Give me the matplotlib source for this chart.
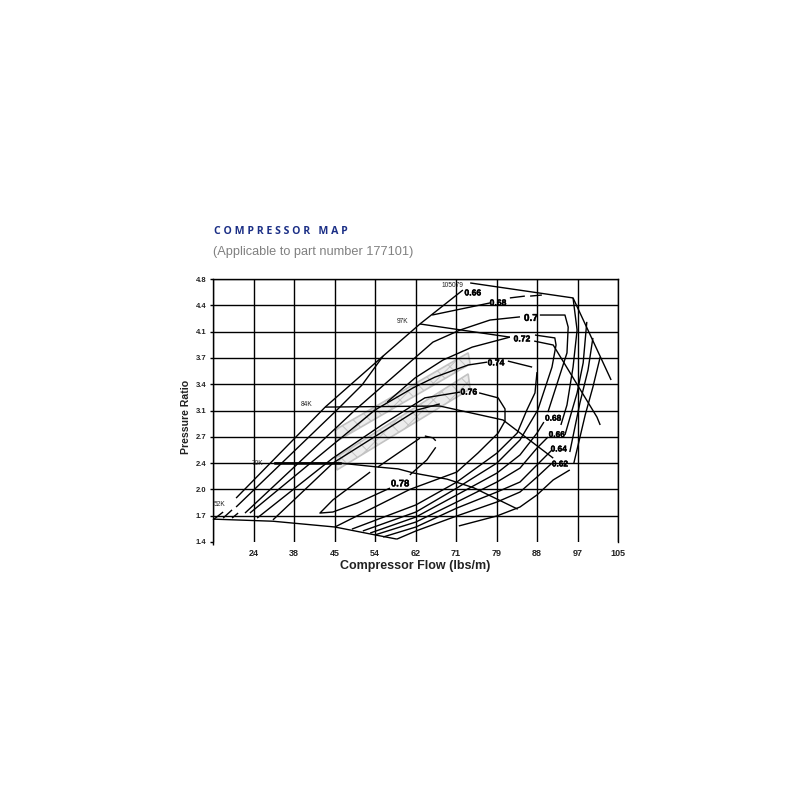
import matplotlib
matplotlib.use("Agg")
import matplotlib.pyplot as plt
from matplotlib.patheffects import withStroke

plt.rcParams['font.family'] = ['Liberation Sans', 'DejaVu Sans']

# axis categories; curves are expressed in tick-index units of the two category axes
x_labels = ['', '24', '38', '45', '54', '62', '71', '79', '88', '97', '105']
y_labels = ['1.4', '1.7', '2.0', '2.4', '2.7', '3.1', '3.4', '3.7', '4.1', '4.4', '4.8']

surge_x = [0.57, 2.77, 4.20, 5.11, 6.17]
surge_y = [1.67, 5.13, 7.07, 8.29, 9.58]
top_x = [6.35, 8.89, 9.83]
top_y = [9.85, 9.28, 6.16]
s97a_x = [5.11, 7.33]
s97a_y = [8.29, 7.79]
s97b_x = [7.93, 8.40, 9.48, 9.56]
s97b_y = [7.64, 7.49, 4.75, 4.45]
s84_x = [2.77, 5.60, 7.16, 8.40]
s84_y = [5.13, 5.17, 4.64, 3.19]
s70_x = [1.53, 3.14, 4.07, 4.57, 4.96, 5.78, 6.44, 7.51]
s70_y = [3.00, 3.00, 2.85, 2.78, 2.62, 2.39, 2.06, 1.26]
s52_x = [0.00, 1.48, 3.01, 4.00, 4.54]
s52_y = [0.87, 0.79, 0.57, 0.27, 0.11]

cb_x = [0.57, 3.06, 3.68, 4.20]
cb_y = [1.33, 5.02, 5.97, 7.07]
c70_x = [0.79, 3.51, 5.43, 6.10, 6.84, 7.58]
c70_y = [1.10, 5.02, 7.60, 8.06, 8.44, 8.56]
c72_x = [4.30, 4.99, 5.68, 6.40, 7.33]
c72_y = [5.32, 6.24, 6.92, 7.41, 7.79]
c74_x = [0.91, 4.00, 4.94, 5.48, 6.30, 6.77]
c74_y = [1.10, 5.02, 5.86, 6.27, 6.73, 6.84]
c76_x = [1.09, 2.96, 4.17, 5.23, 6.10]
c76_y = [0.91, 3.19, 4.45, 5.48, 5.70]
cf_x = [1.48, 2.96, 5.04, 5.60]
cf_y = [0.84, 3.00, 5.02, 5.25]

c76r_x = [6.57, 7.04, 7.21, 7.21, 7.04, 6.54, 6.02, 4.86, 3.01]
c76r_y = [5.67, 5.48, 5.06, 4.60, 4.14, 3.38, 2.66, 2.00, 0.57]
c78_x = [4.37, 3.56, 2.96, 2.64, 2.96, 3.88]
c78_y = [2.05, 1.48, 1.14, 1.10, 1.60, 2.66]
c78r_x = [4.86, 5.28, 5.50]
c78r_y = [2.55, 3.12, 3.60]
c78t_x = [5.50, 5.43, 5.23]
c78t_y = [3.85, 3.96, 4.03]
cg_x = [4.07, 5.11]
cg_y = [2.85, 3.95]

c68a_x = [5.41, 6.84]
c68a_y = [8.63, 9.09]
c68b_x = [7.33, 7.70]
c68b_y = [9.28, 9.35]
c68c_x = [7.83, 8.12]
c68c_y = [9.35, 9.39]

c74t_x = [7.28, 7.88]
c74t_y = [6.88, 6.65]

f1_x = [3.43, 5.01, 6.02, 7.01, 7.51, 7.75, 7.95, 8.00]
f1_y = [0.49, 1.41, 2.28, 3.38, 4.14, 5.02, 5.67, 6.46]
f2_x = [3.70, 5.01, 6.02, 7.01, 7.58, 8.02, 8.37, 8.47, 8.44, 7.95]
f2_y = [0.42, 1.14, 2.05, 3.00, 3.88, 5.02, 6.65, 7.49, 7.76, 7.87]
f3_x = [3.88, 5.01, 6.02, 7.01, 7.58, 8.00, 8.17]
f3_y = [0.34, 0.95, 1.79, 2.62, 3.31, 4.14, 4.56]
u3_x = [8.27, 8.74, 8.77, 8.69, 8.07]
u3_y = [4.94, 7.19, 8.17, 8.63, 8.63]
f4_x = [4.00, 5.01, 6.02, 7.01, 7.58, 8.00, 8.27]
f4_y = [0.27, 0.76, 1.52, 2.28, 2.81, 3.57, 3.99]
u4_x = [8.59, 8.74, 8.89, 8.99, 8.89]
u4_y = [4.45, 5.21, 6.65, 8.06, 9.28]
f5_x = [4.20, 5.01, 6.02, 7.01, 7.58, 8.00, 8.37]
f5_y = [0.19, 0.57, 1.29, 1.90, 2.28, 2.93, 3.50]
u5_x = [8.69, 8.99, 9.14, 9.23]
u5_y = [4.07, 5.67, 6.81, 8.37]
f6_x = [4.54, 5.01, 6.02, 7.01, 7.58, 8.00, 8.37]
f6_y = [0.11, 0.42, 0.99, 1.52, 1.90, 2.47, 3.00]
u6_x = [8.81, 9.06, 9.26, 9.38]
u6_y = [3.42, 5.29, 6.54, 7.76]
f7_x = [6.07, 7.01, 7.58, 8.00, 8.40, 8.81]
f7_y = [0.61, 0.99, 1.33, 1.79, 2.36, 2.74]
u7_x = [8.91, 9.19, 9.38, 9.56]
u7_y = [3.00, 4.83, 5.89, 7.03]

dash1_x = [0.00, 0.25]
dash1_y = [0.84, 1.14]
dash2_x = [0.25, 0.47]
dash2_y = [0.91, 1.22]
dash3_x = [0.47, 0.62]
dash3_y = [0.91, 1.10]

# efficiency labels: text, x index, y index, size
bold_labels = [('0.66', 6.42, 9.47, 6.2), ('0.68', 7.04, 9.09, 6.2), ('0.7', 7.85, 8.52, 7.2),
               ('0.72', 7.63, 7.72, 6.2), ('0.74', 6.99, 6.81, 6.2), ('0.76', 6.32, 5.70, 6.2),
               ('0.78', 4.62, 2.21, 6.8),
               ('0.68', 8.40, 4.67, 6.0), ('0.66', 8.49, 4.05, 6.0), ('0.64', 8.54, 3.50, 6.0),
               ('0.62', 8.57, 2.93, 6.0)]
speed_labels = [('105079', 5.91, 9.77), ('97K', 4.69, 8.37), ('84K', 2.30, 5.21),
                ('70K', 1.11, 3.00), ('52K', 0.17, 1.44)]

wm1_x = [3.01, 3.06, 6.35, 6.30]
wm1_y = [4.26, 3.84, 6.77, 7.19]
wm2_x = [3.01, 3.06, 6.35, 6.30]
wm2_y = [3.19, 2.74, 5.82, 6.39]

fig = plt.figure(figsize=(8, 8), dpi=100)
ax = fig.add_axes([213/800, 1-542/800, 405/800, 263/800])
ax.set_xlim(0, 10)
ax.set_ylim(0, 10)

ax.set_xticks(range(11))
ax.set_xticklabels(x_labels, fontsize=6.5, fontweight='bold', color='#222222')
ax.set_yticks(range(11))
ax.set_yticklabels(y_labels, fontsize=5.5, fontweight='bold', color='#222222')
ax.tick_params(axis='y', length=2.5, width=1.0, pad=2.2)
ax.tick_params(axis='x', length=2.5, width=1.0, pad=2.5)
for tick in ax.xaxis.get_major_ticks()[1:]:
    tick.tick1line.set_visible(False)
ax.grid(True, color='black', lw=1.0, zorder=1)
ax.yaxis.get_gridlines()[0].set_visible(False)
for s in ax.spines.values():
    s.set_linewidth(1.0)
ax.spines['bottom'].set_visible(False)
ax.set_xlabel('Compressor Flow (lbs/m)', fontsize=9, fontweight='bold', color='#222222', labelpad=1.5)
ax.set_ylabel('Pressure Ratio', fontsize=7.6, fontweight='bold', color='#222222')
ax.yaxis.set_label_coords(-0.054, 0.475)

plt.rcParams['hatch.linewidth'] = 0.7
for xs, ys in [(wm1_x, wm1_y), (wm2_x, wm2_y)]:
    ax.fill(xs, ys, facecolor='#ececec', edgecolor='#c2c2c2', hatch='xx', lw=1.2, zorder=1.5)

curves = [(surge_x, surge_y), (top_x, top_y), (s97a_x, s97a_y), (s97b_x, s97b_y),
          (s84_x, s84_y), (s52_x, s52_y), (cb_x, cb_y), (c70_x, c70_y), (c72_x, c72_y),
          (c74_x, c74_y), (c76_x, c76_y), (cf_x, cf_y), (c76r_x, c76r_y), (c78_x, c78_y),
          (c78r_x, c78r_y), (c78t_x, c78t_y), (cg_x, cg_y), (c68a_x, c68a_y), (c68b_x, c68b_y),
          (c68c_x, c68c_y), (c74t_x, c74t_y), (f1_x, f1_y), (f2_x, f2_y), (f3_x, f3_y),
          (u3_x, u3_y), (f4_x, f4_y), (u4_x, u4_y), (f5_x, f5_y), (u5_x, u5_y), (f6_x, f6_y),
          (u6_x, u6_y), (f7_x, f7_y), (u7_x, u7_y), (dash1_x, dash1_y), (dash2_x, dash2_y),
          (dash3_x, dash3_y)]
for xs, ys in curves:
    ax.plot(xs, ys, color='black', lw=1.0, zorder=3, clip_on=False, solid_capstyle='butt',
            solid_joinstyle='round')
ax.plot(s70_x, s70_y, color='black', lw=1.0, zorder=3)
ax.plot(s70_x[:2], s70_y[:2], color='black', lw=1.8, zorder=3)

label_fx = [withStroke(linewidth=0.3, foreground='black')]
for text, x, y, size in bold_labels:
    ax.text(x, y, text, fontsize=size, fontweight='bold', ha='center', va='center', zorder=5,
            path_effects=label_fx)
for text, x, y in speed_labels:
    ax.text(x, y, text, fontsize=4.8, ha='center', va='center', zorder=5, color='#222222')

fig.text(214/800, 1-231/800, 'C O M P R E S S O R   M A P', fontsize=7.6, fontweight='bold',
         color='#1b2f86', ha='left', va='center', fontfamily='Open Sans')
fig.text(213/800, 1-252/800, '(Applicable to part number 177101)', fontsize=9.15, color='#808080',
         ha='left', va='center')

fig.savefig('out.png', dpi=100, facecolor='white')
